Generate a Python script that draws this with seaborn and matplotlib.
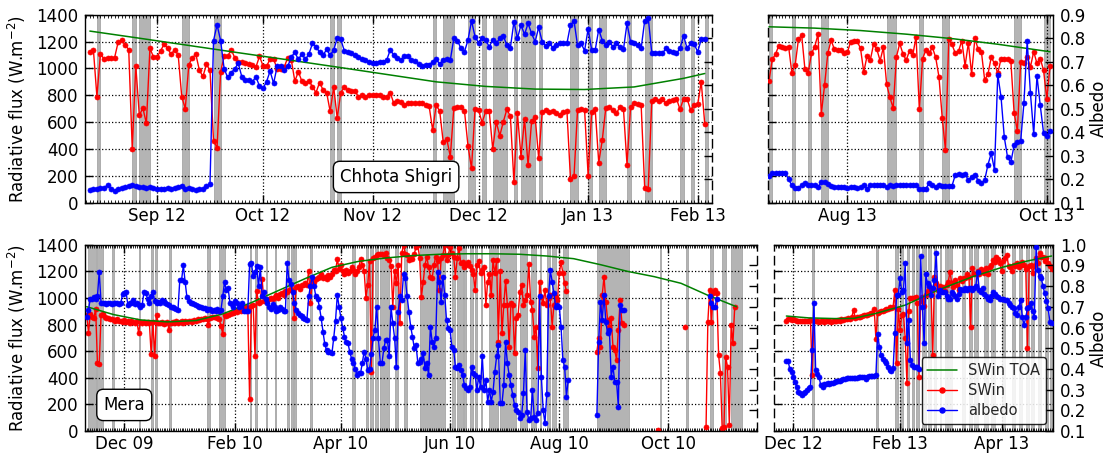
import numpy as np
import pandas as pd
import matplotlib
matplotlib.use("Agg")
import matplotlib.pyplot as plt
import matplotlib.dates as mdates
from matplotlib.ticker import FormatStrFormatter, MultipleLocator
from matplotlib.lines import Line2D
import seaborn as sns

nan = np.nan

# ---------------- Chhota Shigri, Aug 2012 - Feb 2013 ----------------
cs1_start = "2012-08-13"
cs1_swin = [
    1120, 1140, 790, 1110, 1070, 1080, 1080, 1080, 1195, 1210,
    1175, 1140, 400, 1020, 650, 705, 590, 1150, 1085, 1085,
    1130, 1180, 1150, 1105, 1140, 1100, 790, 700, 1025, 1080,
    1105, 985, 940, 1030, 985, 460, 410, 975, 1090, 1090,
    1140, 1080, 1050, 1050, 1040, 1035, 1025, 1010, 1090, 1020,
    1015, 1070, 1070, 995, 995, 1010, 1080, 1065, 905, 975,
    905, 895, 905, 865, 820, 895, 840, 820, 680, 860,
    630, 820, 860, 840, 830, 830, 790, 800, 790, 805,
    800, 800,
    800, 790, 790, 820, 740, 760, 750, 730, 740, 740, 745, 740, 740, 730, 720,
    541, 725, 683, 449, 474, 343, 707, 712, 710, 685,
    424, 256, 700, 690, 596, 680, 685, 400, 601, 499,
    603, 695, 643, 154, 665, 343, 625, 278, 606, 640,
    333, 675, 690, 673, 683, 665, 650, 675, 683, 176,
    196, 690, 700, 688, 201, 675, 695, 298, 467, 707,
    712, 688, 665, 715, 695, 283, 712, 740, 732, 727,
    112, 102, 755, 769, 757, 769, 740, 757, 764, 774,
    695, 774, 774, 690, 725, 732, 901, 586,
]
cs1_albedo = [
    0.155, 0.158, 0.16, 0.163, 0.163, 0.175, 0.16, 0.148, 0.158, 0.162,
    0.165, 0.17, 0.175, 0.17, 0.168, 0.165, 0.163, 0.167, 0.163, 0.16,
    0.16, 0.16, 0.162, 0.16, 0.163, 0.168, 0.173, 0.16, 0.162, 0.158,
    0.152, 0.158, 0.16, 0.17, 0.178,
    0.79, 0.857, 0.79, 0.67, 0.633, 0.653, 0.67, 0.693, 0.636, 0.62,
    0.62, 0.615, 0.636, 0.596, 0.587, 0.615, 0.66, 0.608, 0.68, 0.68,
    0.665, 0.68, 0.72, 0.74, 0.71, 0.733, 0.71, 0.733, 0.778, 0.764,
    0.74, 0.728, 0.752, 0.728, 0.75, 0.80, 0.795, 0.747, 0.743, 0.735,
    0.728, 0.72, 0.71, 0.707, 0.70, 0.696, 0.696,
    0.70, 0.70, 0.707, 0.75, 0.728, 0.714, 0.707, 0.724, 0.724, 0.707,
    0.703, 0.69, 0.68, 0.686, 0.686, 0.70, 0.71, 0.69, 0.707, 0.71,
    0.707, 0.80, 0.79, 0.757, 0.742, 0.792, 0.874, 0.806, 0.78, 0.80,
    0.792, 0.764, 0.792, 0.778, 0.80, 0.81, 0.77, 0.76, 0.87, 0.80,
    0.856, 0.816, 0.863, 0.82, 0.785, 0.846, 0.785, 0.767, 0.78, 0.76,
    0.773, 0.778, 0.778, 0.778, 0.856, 0.874, 0.77, 0.778, 0.747, 0.84,
    0.75, 0.75, 0.837, 0.79, 0.77, 0.785, 0.764, 0.778, 0.764, 0.753,
    0.863, 0.785, 0.778, 0.77, 0.757, 0.874, 0.888, 0.738, 0.738, 0.738,
    0.735, 0.757, 0.747, 0.742, 0.735, 0.757, 0.81, 0.757, 0.778, 0.775,
    0.742, 0.795, 0.795,
]
cs1_toa_dates = ["2012-08-13", "2012-08-27", "2012-09-10", "2012-09-24", "2012-10-08",
                 "2012-10-22", "2012-11-05", "2012-11-19", "2012-12-03", "2012-12-17",
                 "2012-12-31", "2013-01-14", "2013-01-28", "2013-02-03"]
cs1_toa = [1278, 1225, 1171, 1117, 1064, 1010, 955, 900, 866, 846, 843, 862, 926, 962]
cs1_shaded = [("2012-08-15", 1), ("2012-08-25", 1), ("2012-08-27", 3), ("2012-09-08", 2),
              ("2012-09-17", 2), ("2012-10-20", 1), ("2012-10-22", 1), ("2012-11-18", 1),
              ("2012-11-21", 3), ("2012-11-28", 2), ("2012-12-02", 1), ("2012-12-05", 4),
              ("2012-12-11", 1), ("2012-12-13", 4), ("2012-12-18", 1), ("2012-12-27", 2),
              ("2013-01-01", 1), ("2013-01-04", 2), ("2013-01-12", 1), ("2013-01-17", 2),
              ("2013-01-27", 1), ("2013-01-30", 1), ("2013-02-03", 1)]

# ---------------- Chhota Shigri, Jul - Oct 2013 ----------------
cs2_start = "2013-07-08"
cs2_swin = [
    906, 1067, 1107, 1169, 1162, 1154, 1162, 968, 1023, 1216,
    1248, 993, 968, 1112, 1162, 1256, 660, 874, 1112, 1211,
    1142, 1140, 1137, 1117, 1122, 1199, 1201, 1201, 1149, 973, 1092,
    1062, 1181, 1142, 1057, 1157, 881, 784, 705, 1087, 1186,
    1107, 1062, 1132, 1100, 1236, 695, 1072, 1137, 1112, 1157,
    1082, 938, 633, 392, 1216, 1179, 1112, 1129, 1206, 1018,
    1191, 958, 1224, 1142, 1122, 913, 958, 1082, 1037, 963,
    1072, 1072, 1072, 1055, 670, 534, 1047, 1037, 1087, 1013,
    1124, 1037, 1072, 988, 774, 1018,
]
cs2_albedo = [
    0.213, 0.225, 0.225, 0.225, 0.225, 0.225, 0.20, 0.174, 0.164, 0.164,
    0.174, 0.182, 0.174, 0.174, 0.174, 0.165, 0.188, 0.188, 0.18, 0.17,
    0.168, 0.166, 0.165, 0.165, 0.163, 0.165, 0.165, 0.163, 0.165, 0.175, 0.16,
    0.174, 0.175, 0.175, 0.175, 0.175, 0.168, 0.175, 0.172, 0.175, 0.175,
    0.175, 0.175, 0.175, 0.175, 0.175, 0.16, 0.16, 0.16, 0.182, 0.175,
    0.166, 0.175, 0.172, 0.172, 0.172, 0.172, 0.218, 0.222, 0.218, 0.222,
    0.196, 0.21, 0.22, 0.194, 0.182, 0.196, 0.262, 0.31, 0.24, 0.645,
    0.55, 0.378, 0.293, 0.272, 0.344, 0.358, 0.362, 0.523, 0.788, 0.565,
    0.392, 0.639, 0.514, 0.398, 0.384, 0.405,
]
cs2_toa_dates = ["2013-07-08", "2013-07-22", "2013-08-05", "2013-08-19",
                 "2013-09-02", "2013-09-16", "2013-10-02"]
cs2_toa = [1310, 1300, 1282, 1255, 1222, 1180, 1124]
cs2_shaded = [("2013-07-08", 1), ("2013-07-15", 1), ("2013-07-20", 1), ("2013-07-24", 2),
              ("2013-08-13", 3), ("2013-08-23", 1), ("2013-08-30", 2), ("2013-09-21", 2),
              ("2013-09-30", 2)]

# ---------------- Mera, Nov 2009 - Nov 2010 ----------------
mr1_start = "2009-11-10"
mr1_swin = [
    870, 740, 880, 860, 850, 920, 510, 500, 870, 880,
    860, 850, 850, 840, 845, 835, 830, 840, 825, 830,
    820, 835, 820, 830, 815, 825, 820, 815, 825, 740,
    820, 815, 820, 810, 820, 815, 580, 820, 560, 870,
    810, 815, 820, 805, 815, 820, 760, 815, 820, 810,
    825, 815, 820, 825, 815, 830, 820, 825, 830, 820,
    835, 830, 840, 835, 845, 840, 850, 845, 800, 850,
    855, 855, 860, 850, 845, 790, 730, 870, 865, 875,
    880, 890, 885, 900, 895, 910, 905, 915, 920, 930,
    925, 240, 940, 950, 565, 1050, 960, 970, 1140, 975,
    980, 985, 990, 1000, 995, 1010, 1020, 1000, 1030, 1040,
    1020, 1050, 1045, 1060, 1070, 1055, 850, 1080, 1090, 1070,
    1100, 1095, 1110, 1100, 1200, 960, 1130, 1120, 1140, 1150,
    1160, 1180, 1150, 1160, 1140, 1170, 1160, 1180, 1210, 1200,
    1290, 1220, 1250, 1200, 1180, 1210, 1190, 1200, 1230, 1210,
    1180, 1200, 1230, 1290, 1250, 1200, 1000, 1100, 1280, 440,
    1300, 1310, 1320, 1330,
    1330, 1330, 1320, 1335, 1300, 1285, 1240, 934, 1200, 1109,
    1250, 809, 1335, 1400, 1330, 1320, 1285, 1300, 1290, 1330,
    1385, 1397, 1300, 1009, 1122, 1250, 1310, 1230, 1160, 1147,
    1250, 1310, 1280, 1059, 1300, 1322, 1397, 1285, 1322, 1385,
    1340, 1310, 1160, 1300, 1372, 1260, 1270, 1230, 1250, 1270,
    1240, 1210, 1180, 1059, 1250, 1280, 1185, 1210, 1230, 947,
    1122, 1180, 1022, 1285, 1185, 1285, 671, 1200, 734, 947,
    1130, 947, 634, 960, 947, 583, 846, 871, 1047, 1097,
    947, 984, 1022, 1255, 972, 909, 709, 784, 471, 1122,
    1009, 960, 1060, 947, 997, 1022, 784, 947, 1009, 984,
    1185, 1272, 1185, 1109, 1050,
] + [nan] * 16 + [
    596, 696, 634, 1022, 1160, 972, 834, 784, 846, 634, 609, 533, 759, 984, 809, 800,
] + [nan] * 18 + [5] + [nan] * 14 + [784] + [nan] * 11 + [
    33, 821, 1059, 821, 1034, 1059, 1034, 571, 438, 20, 28, 553, 483, 45, 796, 659, 929,
]
mr1_albedo = [
    0.65, 0.685, 0.74, 0.74, 0.745, 0.74, 0.75, 0.87, 0.72, 0.717,
    0.717, 0.715, 0.72, 0.717, 0.715, 0.717, 0.72, 0.717, 0.715, 0.717,
    0.76, 0.765, 0.77, 0.71, 0.72, 0.72, 0.735, 0.715, 0.72, 0.71,
    0.70, 0.71, 0.77, 0.765, 0.74, 0.72, 0.75, 0.77, 0.73, 0.72,
    0.725, 0.72, 0.735, 0.73, 0.72, 0.715, 0.71, 0.70, 0.70, 0.695,
    0.69, 0.685, 0.83, 0.83, 0.90, 0.82, 0.745, 0.73, 0.72, 0.72,
    0.715, 0.71, 0.705, 0.70, 0.70, 0.695, 0.695, 0.685, 0.69, 0.69,
    0.68, 0.685, 0.68, 0.69, 0.68, 0.685, 0.75, 0.82, 0.78, 0.79,
    0.72, 0.715, 0.70, 0.73, 0.72, 0.70, 0.705, 0.72, 0.68, 0.68,
    0.68, 0.905, 0.91, 0.85, 0.87, 0.895, 0.80, 0.89, 0.75, 0.77,
    0.74, 0.72, 0.70, 0.69, 0.715, 0.70, 0.68, 0.685, 0.70, 0.69,
    0.68, 0.68, 0.91, 0.83, 0.81, 0.77, 0.72, 0.685, 0.67, 0.66,
    0.655, 0.645, 0.64, 0.635, 0.75, 0.80, 0.845, 0.80, 0.75, 0.74,
    0.70, 0.645, 0.58, 0.52, 0.49, 0.48, 0.48, 0.475, 0.55, 0.633,
    0.757, 0.70, 0.645, 0.60, 0.556, 0.53, 0.523, 0.48, 0.45, 0.427,
    0.40, 0.37, 0.378, 0.38, 0.43, 0.483, 0.45, 0.395, 0.40, 0.47,
    0.55, 0.59, 0.70, 0.55,
    0.427, 0.43, 0.50, 0.54, 0.54, 0.46, 0.70, 0.62, 0.55, 0.41,
    0.676, 0.75, 0.733, 0.86, 0.837, 0.75, 0.676, 0.604, 0.556, 0.50,
    0.515, 0.427, 0.435, 0.45, 0.475, 0.403, 0.43, 0.37, 0.604, 0.53,
    0.507, 0.548, 0.87, 0.82, 0.725, 0.845, 0.757, 0.636, 0.596, 0.588,
    0.507, 0.49, 0.41, 0.403, 0.42, 0.395, 0.37, 0.322, 0.306, 0.298,
    0.314, 0.41, 0.38, 0.37, 0.298, 0.362, 0.314, 0.46, 0.298, 0.346,
    0.242, 0.298, 0.242, 0.29, 0.387, 0.46, 0.515, 0.234, 0.234, 0.322,
    0.53, 0.43, 0.37, 0.322, 0.274, 0.226, 0.20, 0.193, 0.161, 0.177,
    0.282, 0.49, 0.193, 0.153, 0.161, 0.298, 0.169, 0.153, 0.185, 0.75,
    0.362, 0.20, 0.137, 0.277, 0.75, 0.878, 0.82, 0.765, 0.70, 0.71,
    0.70, 0.604, 0.443, 0.41, 0.266, 0.346,
] + [nan] * 15 + [
    0.177, 0.53, 0.725, 0.636, 0.757, 0.628, 0.572, 0.588, 0.362, 0.41,
    0.338, 0.338, 0.218, 0.71, 0.685, 0.685,
] + [nan] * 47 + [0.752, 0.72, 0.70, 0.70, 0.74]
mr1_toa_dates = ["2009-11-10", "2009-11-25", "2009-12-10", "2009-12-25", "2010-01-10",
                 "2010-01-25", "2010-02-10", "2010-02-25", "2010-03-12", "2010-03-27",
                 "2010-04-11", "2010-04-26", "2010-05-11", "2010-05-26", "2010-06-10",
                 "2010-06-25", "2010-07-10", "2010-07-25", "2010-08-09", "2010-08-24",
                 "2010-09-08", "2010-09-23", "2010-10-08", "2010-10-23", "2010-11-08"]
mr1_toa = [934, 875, 835, 820, 830, 880, 965, 1055, 1145, 1230, 1275, 1300, 1318, 1328,
           1332, 1332, 1328, 1315, 1295, 1250, 1200, 1160, 1110, 1020, 934]
mr1_shaded = [("2009-11-11", 4), ("2009-11-16", 3), ("2009-11-24", 1), ("2009-12-09", 1),
              ("2009-12-16", 1), ("2009-12-18", 1), ("2009-12-26", 1), ("2010-01-16", 2),
              ("2010-01-23", 3), ("2010-02-09", 1), ("2010-02-12", 1), ("2010-02-18", 1),
              ("2010-02-23", 1), ("2010-03-02", 1), ("2010-03-04", 1), ("2010-03-06", 1),
              ("2010-03-15", 1), ("2010-04-07", 2), ("2010-04-15", 1), ("2010-04-17", 2),
              ("2010-04-20", 2), ("2010-04-23", 5), ("2010-05-01", 2), ("2010-05-06", 2),
              ("2010-05-15", 14), ("2010-06-02", 2), ("2010-06-05", 3), ("2010-06-09", 1),
              ("2010-06-12", 2), ("2010-06-15", 1), ("2010-06-18", 1), ("2010-06-23", 5),
              ("2010-06-29", 9), ("2010-07-10", 4), ("2010-07-16", 3), ("2010-07-21", 1),
              ("2010-07-25", 2), ("2010-07-28", 2), ("2010-08-03", 3), ("2010-08-22", 18),
              ("2010-09-26", 1), ("2010-10-11", 1), ("2010-10-24", 2), ("2010-10-31", 2),
              ("2010-11-05", 6)]

# ---------------- Mera, Nov 2012 - Apr 2013 ----------------
mr2_start = "2012-11-27"
mr2_swin = [
    830, 845, 840, 835, 840, 835, 830, 830, 825, 825,
    830, 830, 825, 830, 835, 420, 830, 825, 830, 820,
    825, 830, 820, 825, 830, 825, 820, 830, 825, 830,
    835, 830, 840, 835, 845, 840, 850, 845, 855, 910,
    850, 855, 860, 860, 865, 870, 870, 875, 880, 885,
    890, 915, 690, 890, 895, 900, 905, 910, 915, 920,
    930, 925, 935, 1059, 510, 920, 759, 870, 880, 696,
    363, 900, 997, 997, 1000, 1009, 960, 408, 980, 1009,
    940, 1020, 1050, 1084, 1060, 571, 1160, 1110, 1060, 1090,
    1070, 1080, 1050, 1100, 1120, 1197, 1110, 1080, 1134, 1100,
    1060, 1150, 1130, 1150, 1150, 1180, 1160, 784, 1222, 1180,
    1180, 1200, 1180, 1220, 1200, 1190, 1222, 1180, 1230, 1250,
    1285, 1270, 1310, 1290, 1260, 1200, 1280, 1300, 1322, 1240,
    1230, 1200, 1250, 1240, 1260, 1230, 1250, 1270, 1247, 1220,
    621, 1240, 1250, 1190, 1240, 1300, 1260, 1335, 1310, 1310,
    1280, 1300, 1260, 1240, 1220,
]
mr2_albedo = [
    0.438, 0.438, 0.40, 0.387, 0.362, 0.338, 0.314, 0.29, 0.282, 0.274,
    0.285, 0.29, 0.30, 0.31, 0.314, 0.49, 0.717, 0.395, 0.375, 0.36,
    0.32, 0.314, 0.327, 0.325, 0.33, 0.327, 0.33, 0.33, 0.335, 0.34,
    0.343, 0.343, 0.345, 0.35, 0.35, 0.354, 0.354, 0.355, 0.356, 0.356,
    0.355, 0.357, 0.36, 0.36, 0.36, 0.36, 0.35, 0.36, 0.365, 0.366,
    0.366, 0.366, 0.37, 0.568, 0.507, 0.467, 0.446, 0.44, 0.427, 0.41,
    0.395, 0.39, 0.403, 0.572, 0.757, 0.757, 0.837, 0.773, 0.78, 0.91,
    0.523, 0.636, 0.443, 0.42, 0.41, 0.41, 0.41, 0.40, 0.943, 0.70,
    0.523, 0.857, 0.813, 0.80, 0.757, 0.79, 0.83, 0.96, 0.75, 0.78,
    0.773, 0.77, 0.77, 0.75, 0.74, 0.74, 0.77, 0.76, 0.75, 0.74,
    0.76, 0.784, 0.78, 0.78, 0.79, 0.78, 0.79, 0.79, 0.78, 0.79,
    0.80, 0.87, 0.78, 0.77, 0.79, 0.76, 0.75, 0.74, 0.733, 0.75,
    0.773, 0.76, 0.75, 0.745, 0.74, 0.74, 0.74, 0.735, 0.733, 0.72,
    0.709, 0.70, 0.692, 0.67, 0.66, 0.70, 0.733, 0.65, 0.612, 0.65,
    0.692, 0.70, 0.717, 0.68, 0.652, 0.99, 0.878, 0.85, 0.837, 0.80,
    0.765, 0.73, 0.692, 0.628, 0.62,
]
mr2_toa_dates = ["2012-11-27", "2012-12-10", "2012-12-25", "2013-01-05", "2013-01-18",
                 "2013-02-04", "2013-02-23", "2013-03-15", "2013-04-01", "2013-04-15",
                 "2013-04-30"]
mr2_toa = [864, 850, 845, 846, 884, 946, 1059, 1159, 1229, 1275, 1315]
mr2_shaded = [("2012-12-12", 1), ("2013-01-18", 1), ("2013-01-29", 2), ("2013-02-01", 2),
              ("2013-02-05", 1), ("2013-02-08", 1), ("2013-02-10", 2), ("2013-02-14", 2),
              ("2013-02-17", 2), ("2013-02-21", 1), ("2013-02-24", 1), ("2013-02-27", 1),
              ("2013-03-01", 2), ("2013-03-09", 2), ("2013-03-13", 2), ("2013-03-16", 2),
              ("2013-03-22", 2), ("2013-03-26", 2), ("2013-04-01", 2), ("2013-04-07", 2),
              ("2013-04-11", 2), ("2013-04-15", 2), ("2013-04-18", 2), ("2013-04-22", 2),
              ("2013-04-26", 2), ("2013-04-29", 2)]

# ---------------- styling ----------------
sns.set_theme(style="white")
plt.rcParams["font.family"] = ["DejaVu Sans"]
plt.rcParams["mathtext.fontset"] = "dejavusans"

RED, BLUE, GREEN, SHADE, SHADE_EDGE = "#ff0000", "#0000ff", "#008000", "#b4b4b4", "#9c9c9c"
FS = 12


def segments(start, values):
    v = np.asarray(values, dtype=float)
    dates = pd.date_range(start, periods=len(v), freq="D")
    ok = ~np.isnan(v)
    seg = np.cumsum(~ok)
    return pd.DataFrame({"date": dates[ok], "value": v[ok], "seg": seg[ok]})


fig = plt.figure(figsize=(11.09, 4.55), dpi=100)
fig.patch.set_facecolor("white")

panels = [
    dict(rect=[0.0769, 0.5545, 0.5651, 0.4132], xlim=("2012-08-11 17:00", "2013-02-05 01:00"),
         start=cs1_start, swin=cs1_swin, alb=cs1_albedo, td=cs1_toa_dates, toa=cs1_toa,
         shade=cs1_shaded, monthly=True, atop=0.9, side="left",
         label="Chhota Shigri", lxy=(0.496, 0.137)),
    dict(rect=[0.6928, 0.5545, 0.2570, 0.4132], xlim=("2013-07-07 19:00", "2013-10-03 00:00"),
         start=cs2_start, swin=cs2_swin, alb=cs2_albedo, td=cs2_toa_dates, toa=cs2_toa,
         shade=cs2_shaded, monthly=False, atop=0.9, side="right"),
    dict(rect=[0.0769, 0.0527, 0.6059, 0.4095], xlim=("2009-11-09 05:00", "2010-11-19 14:00"),
         start=mr1_start, swin=mr1_swin, alb=mr1_albedo, td=mr1_toa_dates, toa=mr1_toa,
         shade=mr1_shaded, monthly=False, atop=1.0, side="left",
         label="Mera", lxy=(0.058, 0.14)),
    dict(rect=[0.6982, 0.0527, 0.2516, 0.4095], xlim=("2012-11-20", "2013-05-01"),
         start=mr2_start, swin=mr2_swin, alb=mr2_albedo, td=mr2_toa_dates, toa=mr2_toa,
         shade=mr2_shaded, monthly=False, atop=1.0, side="right", legend=True),
]

for p in panels:
    ax = fig.add_axes(p["rect"])
    ax2 = ax.twinx()
    ax.set_facecolor("white")
    ax.set_axisbelow("line")

    for d0, n in p["shade"]:
        d0 = pd.Timestamp(d0)
        ax.axvspan(d0, d0 + pd.Timedelta(days=n), facecolor=SHADE, edgecolor=SHADE_EDGE,
                   linewidth=0.5, zorder=0.3)

    sw = segments(p["start"], p["swin"])
    sns.lineplot(data=sw, x="date", y="value", units="seg", estimator=None, sort=True,
                 color=RED, marker="o", markersize=3.6, mec=RED, mew=0.5, lw=1.0,
                 ax=ax, legend=False, zorder=2)
    sns.lineplot(x=pd.to_datetime(p["td"]), y=p["toa"], color=GREEN, lw=1.1,
                 ax=ax, legend=False, zorder=3)
    al = segments(p["start"], p["alb"])
    sns.lineplot(data=al, x="date", y="value", units="seg", estimator=None, sort=True,
                 color=BLUE, marker="o", markersize=3.6, mec=BLUE, mew=0.5, lw=1.0,
                 ax=ax2, legend=False, zorder=2)

    ax.set_xlim(pd.Timestamp(p["xlim"][0]), pd.Timestamp(p["xlim"][1]))
    ax.set_ylim(0, 1400)
    ax.yaxis.set_major_locator(MultipleLocator(200))
    ax2.set_ylim(0.1, p["atop"])
    ax2.set_yticks(np.round(np.arange(0.1, p["atop"] + 0.001, 0.1), 1))
    ax2.yaxis.set_major_formatter(FormatStrFormatter("%.1f"))

    if p["monthly"]:
        ax.xaxis.set_major_locator(mdates.MonthLocator())
    else:
        ax.xaxis.set_major_locator(mdates.MonthLocator(bymonth=[2, 4, 6, 8, 10, 12]))
    ax.xaxis.set_major_formatter(mdates.DateFormatter("%b %y"))
    ax.xaxis.set_minor_locator(mdates.DayLocator())

    ax.grid(True, which="major", axis="both", color="black", linestyle=":", linewidth=0.9)
    ax2.grid(False)

    left = p["side"] == "left"
    ax.tick_params(axis="x", which="major", direction="in", length=6, width=1, color="black",
                   top=True, bottom=True, labelsize=FS, pad=3, labelcolor="black")
    ax.tick_params(axis="x", which="minor", direction="in", length=2.5, width=0.6,
                   color="black", top=True, bottom=True)
    ax.tick_params(axis="y", which="major", direction="in", length=6, width=1, color="black",
                   left=True, right=False, labelleft=left, labelsize=FS, pad=5,
                   labelcolor="black")
    ax2.tick_params(axis="y", which="major", direction="in", length=6, width=1, color="black",
                    right=True, left=False, labelright=not left, labelsize=FS, pad=5,
                    labelcolor="black")

    for sp in ax2.spines.values():
        sp.set_visible(False)
    for sp in ax.spines.values():
        sp.set_visible(True)
        sp.set_color("black")
        sp.set_linewidth(1.0)
    if left:
        ax.spines["right"].set_linestyle((0, (6, 4)))
    else:
        ax.spines["left"].set_linestyle((0, (6, 4)))

    ax.set_xlabel("")
    ax2.set_xlabel("")
    if left:
        ax.set_ylabel("Radiative flux (W.m$^{-2}$)", fontsize=FS, labelpad=6, color="black")
        ax2.set_ylabel("")
    else:
        ax.set_ylabel("")
        ax2.set_ylabel("Albedo", fontsize=FS, labelpad=2, color="black")

    if p.get("label"):
        ax2.text(p["lxy"][0], p["lxy"][1], p["label"], transform=ax.transAxes,
                 ha="center", va="center", fontsize=FS, color="black", zorder=10,
                 bbox=dict(boxstyle="round,pad=0.4", facecolor="white",
                           edgecolor="black", linewidth=1.0))

    if p.get("legend"):
        handles = [
            Line2D([], [], color=GREEN, lw=1.1),
            Line2D([], [], color=RED, lw=1.0, marker="o", markersize=3.6, mec=RED),
            Line2D([], [], color=BLUE, lw=1.0, marker="o", markersize=3.6, mec=BLUE),
        ]
        leg = ax2.legend(handles, ["SWin TOA", "SWin", "albedo"], loc="lower right",
                         fontsize=10.5, frameon=True, fancybox=True, framealpha=0.85,
                         edgecolor="black", borderpad=0.4, labelspacing=0.35)
        leg.get_frame().set_linewidth(1.0)
        leg.set_zorder(20)

fig.savefig("out.png", dpi=100, facecolor="white")
